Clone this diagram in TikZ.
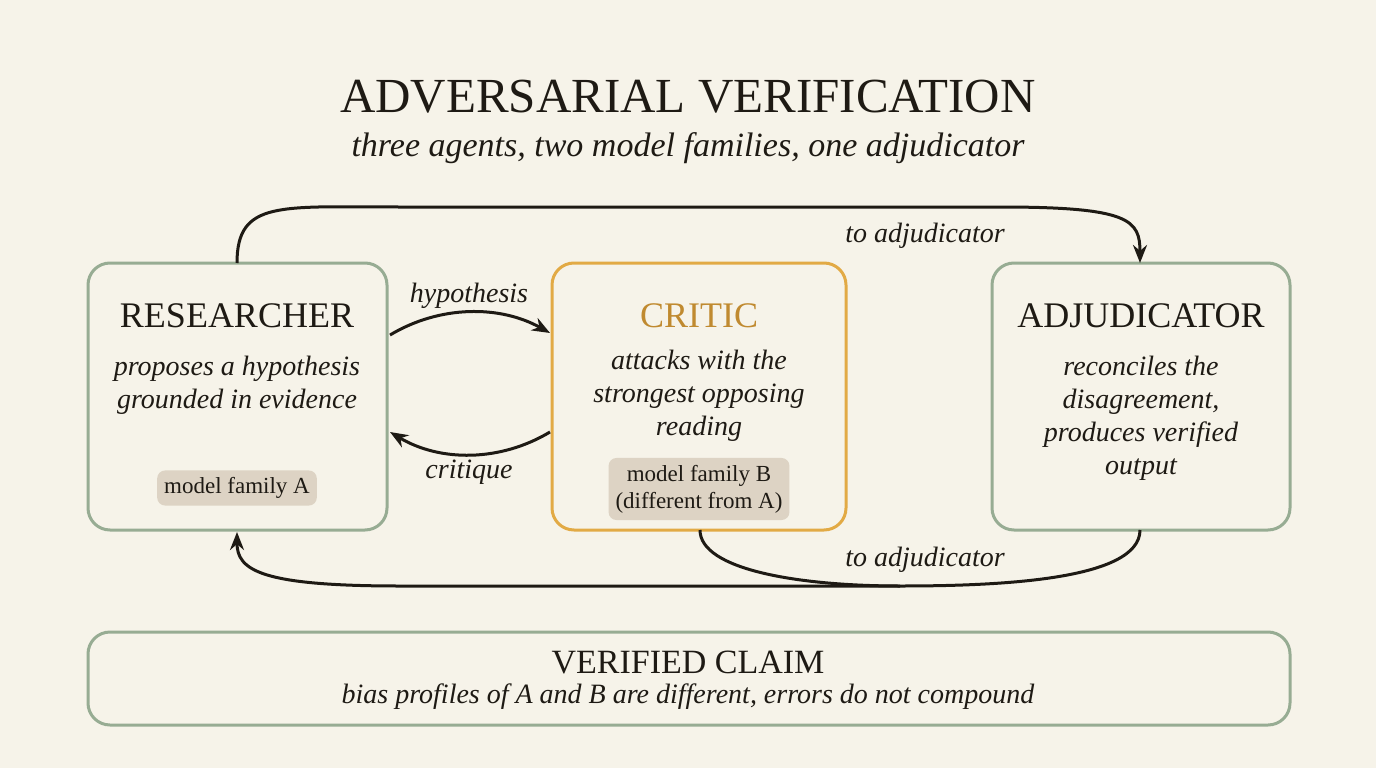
\documentclass[tikz,border=0pt]{standalone}
\usepackage{fontspec}
\setmainfont{Liberation Serif}
\usetikzlibrary{arrows.meta}
\definecolor{bg}{HTML}{F6F3E9}
\definecolor{sage}{HTML}{97AC93}
\definecolor{gold}{HTML}{E2AA45}
\definecolor{goldt}{HTML}{C08A30}
\definecolor{tag}{HTML}{DDD3C4}
\definecolor{ink}{HTML}{1E1A14}
\begin{document}
\begin{tikzpicture}[x=1pt,y=-1pt,
  box/.style={draw=sage,line width=3pt,rounded corners=22pt},
  ttl/.style={font=\fontsize{36}{38}\selectfont,text=ink},
  body/.style={font=\fontsize{28}{33}\selectfont\itshape,text=ink,align=center},
  tg/.style={fill=tag,rounded corners=8pt,font=\fontsize{23}{27}\selectfont,text=ink,align=center,inner sep=7pt},
  arr/.style={draw=ink,line width=3pt,-{Stealth[length=18pt,width=14pt]}},
  ln/.style={draw=ink,line width=3pt}]
\fill[bg] (0,0) rectangle (1376,768);
\node[ttl,font=\fontsize{49}{52}\selectfont] (t) at (688,97) {ADVERSARIAL VERIFICATION};
\node[body,font=\fontsize{34}{36}\selectfont\itshape] (st) at (688,148) {three agents, two model families, one adjudicator};
\draw[box] (88,263) rectangle (387,530);
\coordinate (rtop) at (237,263); \coordinate (rbot) at (237,532);
\draw[box,draw=gold] (552,263) rectangle (846,530);
\coordinate (cbot) at (700,530);
\draw[box] (992,263) rectangle (1290,530);
\coordinate (atop) at (1140,263); \coordinate (abot) at (1140,530);
\draw[box] (88,632) rectangle (1290,725);
\node[ttl] (rt) at (237,316) {RESEARCHER};
\node[body] (rb) at (237,385) {proposes a hypothesis\\grounded in evidence};
\node[tg] (rg) at (237,488) {model family A};
\node[ttl,text=goldt] (ct) at (699,316) {CRITIC};
\node[body] (cb) at (699,396) {attacks with the\\strongest opposing\\reading};
\node[tg] (cg) at (699,489) {model family B\\(different from A)};
\node[ttl] (at) at (1141,316) {ADJUDICATOR};
\node[body] (ab) at (1141,418) {reconciles the\\disagreement,\\produces verified\\output};
\node[ttl,font=\fontsize{34}{36}\selectfont] (vt) at (688,662) {VERIFIED CLAIM};
\node[body] (vb) at (688,697) {bias profiles of A and B are different, errors do not compound};
\coordinate (h1) at (390,335); \coordinate (h2) at (550,333);
\draw[arr] (h1) .. controls (440,305) and (500,305) .. (h2);
\node[body] (hl) at (469,296) {hypothesis};
\coordinate (c1) at (550,432); \coordinate (c2) at (390,432);
\draw[arr] (c1) .. controls (500,462) and (440,462) .. (c2);
\node[body] (cl) at (469,472) {critique};
\draw[arr] (rtop) .. controls (237,200) and (280,207) .. (400,207) -- (1000,207) .. controls (1130,207) and (1140,220) .. (atop);
\node[body] (tl1) at (925,236) {to adjudicator};
\coordinate (m) at (900,586);
\draw[ln] (cbot) .. controls (700,570) and (800,586) .. (m);
\draw[arr] (abot) .. controls (1140,580) and (1000,586) .. (m) -- (400,586) .. controls (260,586) and (237,570) .. (rbot);
\node[body] (tl2) at (925,560) {to adjudicator};
\end{tikzpicture}
\end{document}
